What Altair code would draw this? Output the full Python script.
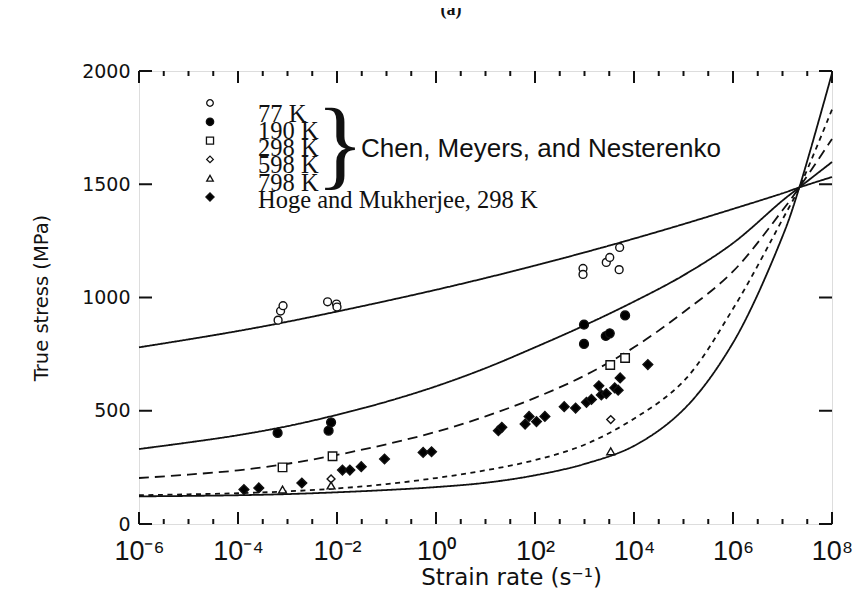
import altair as alt
import pandas as pd

# ---------------- data ----------------
# model curves: log10(strain rate) and true stress (MPa)
curve_exp = [-6, -5, -4, -3, -2, -1, 0, 1, 2, 3, 4, 5, 6, 7, 7.34, 8]
curve_77 = [780, 815, 852, 893, 938, 985, 1034, 1086, 1141, 1199, 1260, 1324, 1391, 1460, 1486, 1532]
curve_190 = [331, 360, 392, 432, 482, 540, 608, 688, 780, 877, 982, 1098, 1240, 1428, 1486, 1598]
curve_298 = [203, 218, 237, 266, 305, 352, 407, 475, 557, 655, 780, 935, 1115, 1385, 1486, 1700]
curve_598 = [127, 131, 136, 144, 157, 176, 203, 237, 282, 350, 465, 630, 950, 1345, 1486, 1830]
curve_798 = [122, 124, 127, 132, 140, 150, 163, 182, 215, 265, 345, 505, 800, 1270, 1486, 1990]

# experimental points (log10 rate, stress)
p77_exp = [-3.19, -3.14, -3.09, -2.19, -2.01, -2.00, 2.97, 2.97, 3.44, 3.51, 3.71, 3.70]
p77_val = [900, 940, 964, 981, 971, 958, 1128, 1102, 1155, 1177, 1221, 1123]
p190_exp = [-3.20, -2.17, -2.12, 2.99, 2.99, 3.43, 3.51, 3.82]
p190_val = [402, 412, 449, 880, 795, 830, 842, 921]
p298_exp = [-3.10, -2.09, 3.52, 3.82]
p298_val = [250, 299, 702, 733]
p598_exp = [-2.12, 3.53]
p598_val = [199, 461]
p798_exp = [-3.10, -2.12, 3.53]
p798_val = [152, 170, 321]
hoge_exp = [-3.88, -3.58, -2.71, -1.89, -1.74, -1.51, -1.04, -0.26, -0.09, 1.26, 1.33, 1.80,
            1.88, 2.03, 2.20, 2.59, 2.82, 3.04, 3.14, 3.29, 3.34, 3.44, 3.61, 3.68, 3.72, 4.28]
hoge_val = [152, 159, 181, 238, 238, 253, 287, 316, 319, 412, 427, 441,
            475, 452, 475, 518, 512, 537, 550, 610, 570, 576, 601, 591, 645, 704]

curve_names = ["77 K", "190 K", "298 K", "598 K", "798 K"]
legend_rows = ["77 K", "190 K", "298 K", "598 K", "798 K", "Hoge and Mukherjee, 298 K"]
group_label = "Chen, Meyers, and Nesterenko"

x_major_exp = [-6, -4, -2, 0, 2, 4, 6, 8]
x_tick_labels = ["10⁻⁶", "10⁻⁴", "10⁻²", "10⁰", "10²", "10⁴", "10⁶", "10⁸"]
x_minor_exp = [-5.5, -5, -4.5, -3.5, -3, -2.5, -1.5, -1, -0.5, 0.5, 1, 1.5,
               2.5, 3, 3.5, 4.5, 5, 5.5, 6.5, 7, 7.5]
y_ticks = [0, 500, 1000, 1500, 2000]

# ---------------- tables ----------------
curve_vals = [curve_77, curve_190, curve_298, curve_598, curve_798]
curves_df = pd.DataFrame(
    [{"series": n, "rate": 10.0 ** e, "stress": v}
     for n, vals in zip(curve_names, curve_vals) for e, v in zip(curve_exp, vals)]
)

point_sets = {
    "77 K": (p77_exp, p77_val),
    "190 K": (p190_exp, p190_val),
    "298 K": (p298_exp, p298_val),
    "598 K": (p598_exp, p598_val),
    "798 K": (p798_exp, p798_val),
    "Hoge and Mukherjee, 298 K": (hoge_exp, hoge_val),
}

styles = {
    "77 K": dict(shape="circle", fill="white", size=62),
    "190 K": dict(shape="circle", fill="black", size=78),
    "298 K": dict(shape="square", fill="white", size=72),
    "598 K": dict(shape="diamond", fill="white", size=62),
    "798 K": dict(shape="triangle-up", fill="white", size=62),
    "Hoge and Mukherjee, 298 K": dict(shape="diamond", fill="black", size=95),
}

W, H = 693, 453
INK = "#111111"

label_expr = " : ".join(
    f"datum.value < {10.0 ** (e + 1):g} ? '{lab}'"
    for e, lab in zip(x_major_exp[:-1], x_tick_labels[:-1])
) + f" : '{x_tick_labels[-1]}'"

X = alt.X(
    "rate:Q",
    scale=alt.Scale(type="log", domain=[1e-6, 1e8], nice=False),
    axis=alt.Axis(
        values=[10.0 ** e for e in x_major_exp], labelExpr=label_expr,
        ticks=False, domain=False, grid=False, labelFlush=False, labelOverlap=False,
        labelFont="Liberation Sans", labelFontSize=27, labelPadding=14, labelColor=INK,
        title="Strain rate (s⁻¹)", titleFont="DejaVu Sans", titleFontSize=23,
        titleFontWeight="normal", titleColor=INK, titlePadding=2, titleX=372,
    ),
)
Y = alt.Y(
    "stress:Q",
    scale=alt.Scale(domain=[0, 2000], nice=False, zero=False),
    axis=alt.Axis(
        values=y_ticks, format="d", ticks=False, domain=False, grid=False, labelFlush=False,
        labelFont="DejaVu Sans", labelFontSize=19, labelPadding=9, labelColor=INK,
        title="True stress (MPa)", titleFont="DejaVu Sans", titleFontSize=19.5,
        titleFontWeight="normal", titleColor=INK, titlePadding=30,
    ),
)

layers = []

# model curves
layers.append(
    alt.Chart(curves_df).mark_line(color=INK, strokeWidth=1.8, interpolate="catmull-rom").encode(
        x=X, y=Y, detail="series:N",
        strokeDash=alt.StrokeDash(
            "series:N",
            scale=alt.Scale(domain=curve_names, range=[[1, 0], [1, 0], [10, 6], [5, 4.5], [1, 0]]),
            legend=None,
        ),
    )
)

# experimental points
for name, (exps, vals) in point_sets.items():
    st = styles[name]
    df = pd.DataFrame({"rate": [10.0 ** e for e in exps], "stress": vals})
    layers.append(
        alt.Chart(df).mark_point(
            shape=st["shape"], size=st["size"], filled=True, fill=st["fill"],
            stroke=INK, strokeWidth=1.4, opacity=1,
        ).encode(x=X, y=Y)
    )

# inward ticks
maj_df = pd.DataFrame({"rate": [10.0 ** e for e in x_major_exp]})
min_df = pd.DataFrame({"rate": [10.0 ** e for e in x_minor_exp]})
for df, ln in ((maj_df, 12), (min_df, 5)):
    layers.append(alt.Chart(df).mark_rule(color=INK, strokeWidth=2).encode(
        x=X, y=alt.value(H), y2=alt.value(H - ln)))
    layers.append(alt.Chart(df).mark_rule(color=INK, strokeWidth=2).encode(
        x=X, y=alt.value(0), y2=alt.value(ln)))
ydf = pd.DataFrame({"stress": y_ticks})
layers.append(alt.Chart(ydf).mark_rule(color=INK, strokeWidth=2).encode(
    y=Y, x=alt.value(0), x2=alt.value(13)))
layers.append(alt.Chart(ydf).mark_rule(color=INK, strokeWidth=2).encode(
    y=Y, x=alt.value(W), x2=alt.value(W - 13)))

# legend (symbols + serif labels)
one = pd.DataFrame({"k": [0]})
for i, name in enumerate(legend_rows):
    st = styles[name]
    layers.append(
        alt.Chart(one).mark_point(
            shape=st["shape"], size=st["size"] * 0.7, filled=True, fill=st["fill"],
            stroke=INK, strokeWidth=1.3, opacity=1,
        ).encode(x=alt.value(71), y=alt.value(32 + 18.8 * i))
    )
    layers.append(
        alt.Chart(one).mark_text(
            align="left", baseline="alphabetic", font="Liberation Serif",
            fontSize=24.5, color=INK, text=name,
        ).encode(x=alt.value(119), y=alt.value(50.7 + 17.2 * i))
    )

# brace and group label
layers.append(
    alt.Chart(one).mark_text(
        align="center", baseline="middle", font="Liberation Serif", fontSize=100,
        color=INK, text="}",
    ).encode(x=alt.value(201), y=alt.value(76))
)
layers.append(
    alt.Chart(one).mark_text(
        align="left", baseline="alphabetic", font="Liberation Sans", fontSize=26,
        color=INK, text=group_label,
    ).encode(x=alt.value(222), y=alt.value(86))
)
# panel label
layers.append(
    alt.Chart(one).mark_text(
        align="center", baseline="alphabetic", font="Liberation Serif", fontSize=18,
        fontWeight="bold", color=INK, text="(a)",
    ).encode(x=alt.value(312), y=alt.value(-56))
)

chart = alt.layer(*layers).properties(
    width=W, height=H,
    autosize=alt.AutoSizeParams(type="none"),
    padding={"left": 131, "top": 63, "right": 25, "bottom": 80},
).configure_view(stroke=INK, strokeWidth=3).configure(background="white")

chart.save("out.html", embed_options={"renderer": "svg", "actions": False})
